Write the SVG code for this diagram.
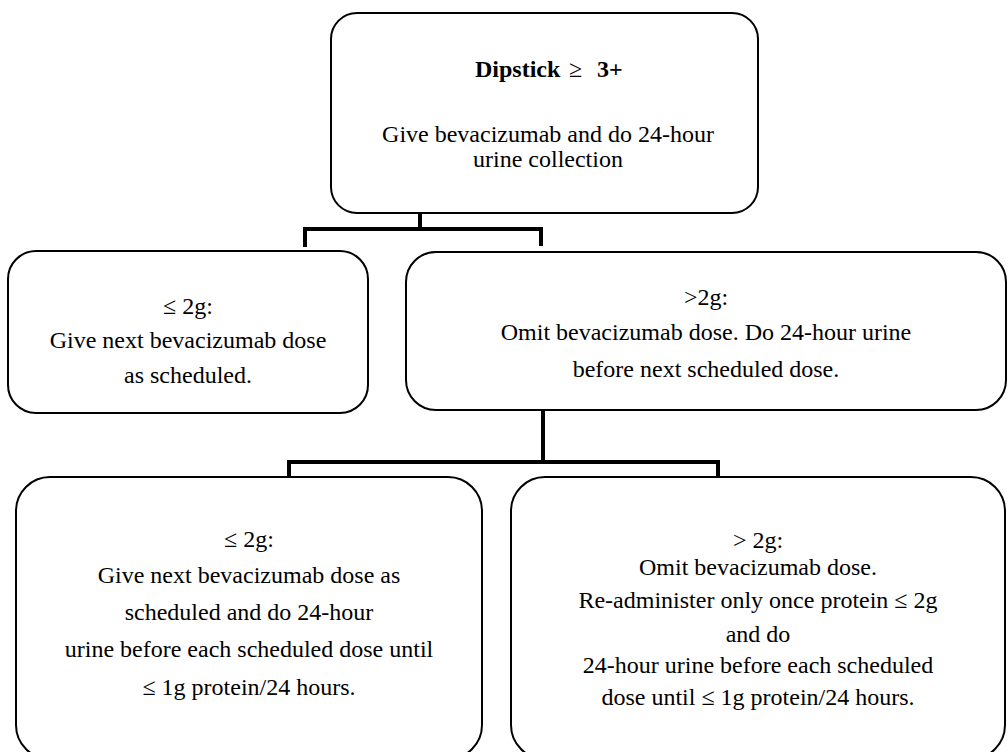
<svg xmlns="http://www.w3.org/2000/svg" width="1008" height="752" viewBox="0 0 1008 752">
  <style>
    .box { fill: #ffffff; stroke: #000000; stroke-width: 2; }
    .t { font-family: "Liberation Serif", "Times New Roman", serif; font-size: 24px; fill: #000000; text-anchor: middle; }
    .b { font-weight: bold; }
    .conn { fill: none; stroke: #000000; stroke-width: 4; stroke-linecap: butt; stroke-linejoin: miter; }
  </style>
  <rect width="1008" height="752" fill="#ffffff"/>

  <g id="connectors">
    <path class="conn" d="M420,213 V229 M303,229 H543 M305,229 V247 M541,229 V246"/>
    <path class="conn" d="M543,411 V462 M287,462 H720 M289,462 V478 M718,462 V478"/>
  </g>

  <g id="node-dipstick">
    <rect class="box" x="331" y="13" width="427" height="200" rx="26" ry="26"/>
    <text class="t b" x="475" y="77" style="text-anchor:start">Dipstick</text>
    <text class="t" x="569" y="77" style="text-anchor:start">≥</text>
    <text class="t b" x="597" y="77" style="text-anchor:start">3+</text>
    <text class="t" x="548" y="142">Give bevacizumab and do 24-hour</text>
    <text class="t" x="548" y="167">urine collection</text>
  </g>

  <g id="node-le2g">
    <rect class="box" x="8" y="251" width="360" height="162" rx="28" ry="28"/>
    <text class="t" x="188" y="314">≤ 2g:</text>
    <text class="t" x="188" y="348">Give next bevacizumab dose</text>
    <text class="t" x="188" y="383">as scheduled.</text>
  </g>

  <g id="node-gt2g">
    <rect class="box" x="406" y="252" width="600" height="158" rx="30" ry="30"/>
    <text class="t" x="706" y="305">&gt;2g:</text>
    <text class="t" x="706" y="340">Omit bevacizumab dose. Do 24-hour urine</text>
    <text class="t" x="706" y="377">before next scheduled dose.</text>
  </g>

  <g id="node-le2g-repeat">
    <rect class="box" x="16" y="477" width="466" height="282" rx="34" ry="34"/>
    <text class="t" x="249" y="547">≤ 2g:</text>
    <text class="t" x="249" y="583">Give next bevacizumab dose as</text>
    <text class="t" x="249" y="620">scheduled and do 24-hour</text>
    <text class="t" x="249" y="657">urine before each scheduled dose until</text>
    <text class="t" x="249" y="695">≤ 1g protein/24 hours.</text>
  </g>

  <g id="node-gt2g-repeat">
    <rect class="box" x="511" y="477" width="494" height="282" rx="34" ry="34"/>
    <text class="t" x="758" y="548">&gt; 2g:</text>
    <text class="t" x="758" y="575">Omit bevacizumab dose.</text>
    <text class="t" x="758" y="608">Re-administer only once protein ≤ 2g</text>
    <text class="t" x="758" y="642">and do</text>
    <text class="t" x="758" y="673">24-hour urine before each scheduled</text>
    <text class="t" x="758" y="705">dose until ≤ 1g protein/24 hours.</text>
  </g>
</svg>
